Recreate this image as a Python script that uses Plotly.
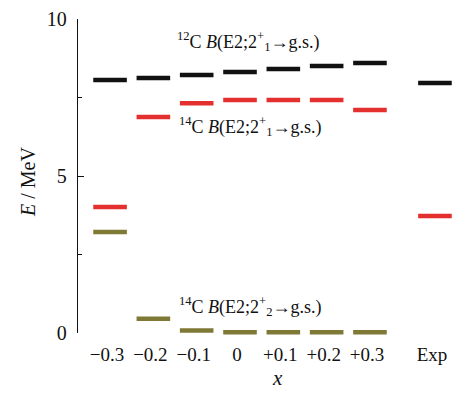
import plotly.graph_objects as go

# ---- data ----
categories = ["\u22120.3", "\u22120.2", "\u22120.1", "0", "+0.1", "+0.2", "+0.3", "Exp"]
x_pos = [0, 1, 2, 3, 4, 5, 6, 7.5]

c12_e2_21 = [8.06, 8.12, 8.22, 8.31, 8.41, 8.50, 8.60, 7.96]
c14_e2_21 = [4.01, 6.88, 7.32, 7.42, 7.42, 7.42, 7.10, 3.73]
c14_e2_22 = [3.22, 0.45, 0.08, 0.02, 0.02, 0.02, 0.02]

FONT = "Liberation Serif"
W, H = 454, 401
ML, MR, MT, MB = 78, 0, 19, 68
PW, PH = W - ML - MR, H - MT - MB

def px(xp):
    return (xp - ML) / PW

def py(yp):
    return (H - MB - yp) / PH

fig = go.Figure()

def add_levels(xs, ys, color, name):
    fig.add_trace(go.Scatter(
        x=xs, y=ys, mode="markers", name=name, cliponaxis=False,
        marker=dict(symbol="line-ew", size=24,
                    line=dict(width=4.5, color=color)),
        showlegend=False,
    ))

add_levels(x_pos, c12_e2_21, "#111111", "12C")
add_levels(x_pos, c14_e2_21, "#e3302e", "14C 2+1")
add_levels(x_pos[:len(c14_e2_22)], c14_e2_22, "#7e7a36", "14C 2+2")

annots = [
    dict(x=175, y=41, text="<sup>12</sup>C <i>B</i>(E2;2<sup>+</sup><sub>1</sub>\u2192g.s.)"),
    dict(x=177, y=126, text="<sup>14</sup>C <i>B</i>(E2;2<sup>+</sup><sub>1</sub>\u2192g.s.)"),
    dict(x=177, y=306, text="<sup>14</sup>C <i>B</i>(E2;2<sup>+</sup><sub>2</sub>\u2192g.s.)"),
]
for a in annots:
    fig.add_annotation(x=px(a["x"]), y=py(a["y"]), xref="paper", yref="paper",
                       text=a["text"], showarrow=False, xanchor="left", yanchor="middle",
                       font=dict(family=FONT, size=18, color="#111"))

fig.add_annotation(x=px(277), y=py(378), xref="paper", yref="paper", text="<i>x</i>",
                   showarrow=False, xanchor="center", yanchor="middle",
                   font=dict(family=FONT, size=21, color="#111"))
fig.add_annotation(x=px(28), y=py(182), xref="paper", yref="paper", text="<i>E</i> / MeV",
                   showarrow=False, xanchor="center", yanchor="middle", textangle=-90,
                   font=dict(family=FONT, size=20, color="#111"))

fig.update_layout(
    width=W, height=H,
    margin=dict(l=ML, r=MR, t=MT, b=MB),
    plot_bgcolor="white", paper_bgcolor="white",
    font=dict(family=FONT, size=18, color="#111"),
    xaxis=dict(range=[-0.74, 7.94], tickvals=x_pos, ticktext=categories,
               showgrid=False, zeroline=False, showline=False, ticks="",
               ticklabelshift=-3, ticklabelstandoff=8,
               tickfont=dict(size=19, family=FONT)),
    yaxis=dict(range=[0, 10], tickvals=[0, 5, 10], showgrid=False, zeroline=False,
               showline=True, linecolor="#111", linewidth=1.3,
               ticks="inside", ticklen=6, tickwidth=1.3, tickcolor="#111",
               minor=dict(tickvals=[2.5, 7.5], ticks="inside", ticklen=4, tickcolor="#111"),
               tickfont=dict(size=20, family=FONT), ticklabelstandoff=6),
)

fig.write_html("out.html")
